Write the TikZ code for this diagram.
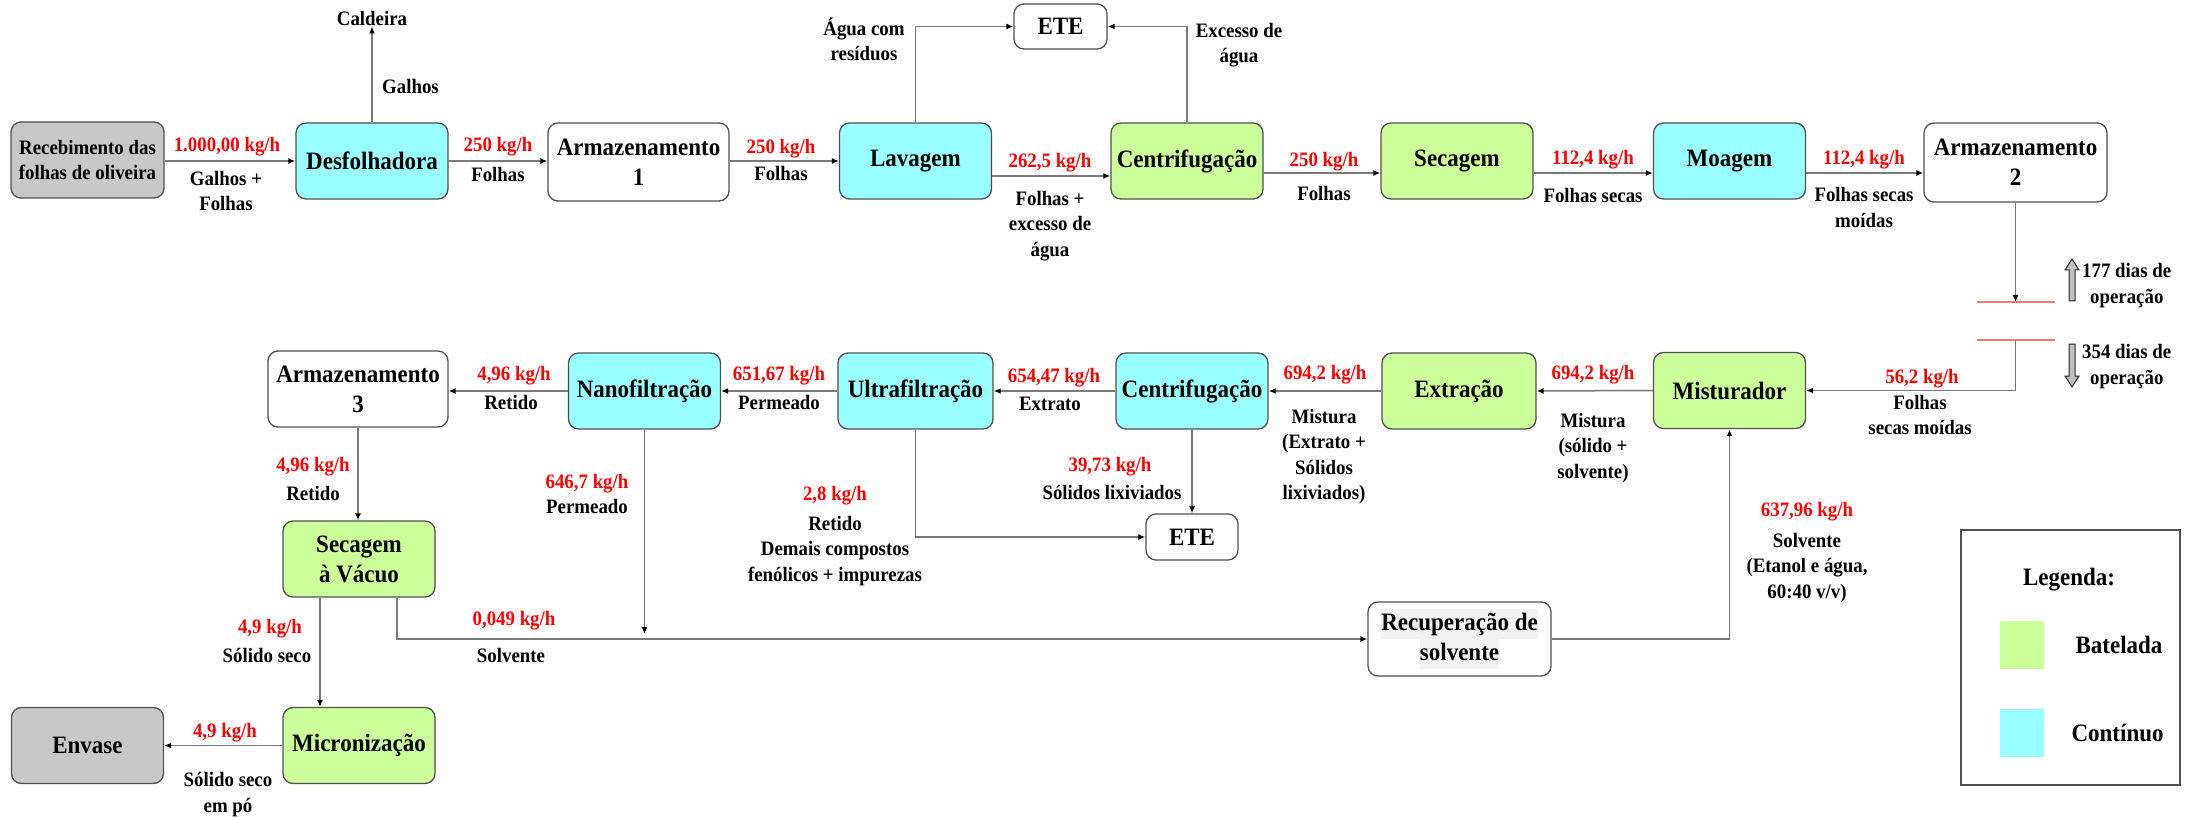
\documentclass[tikz,border=0pt]{standalone}
\usepackage{fontspec}
\setmainfont{Liberation Serif}[FakeStretch=0.92]
\usetikzlibrary{arrows.meta,calc}
\definecolor{contcol}{HTML}{99FFFF}
\definecolor{batcol}{HTML}{CCFF99}
\definecolor{endcol}{HTML}{C8C8C8}
\definecolor{edgecol}{HTML}{505050}
\definecolor{linecol}{HTML}{7A7A7A}
\definecolor{ratecol}{HTML}{FF0000}
\definecolor{cutcol}{HTML}{F07878}
\definecolor{hilite}{HTML}{F2F2F2}
\newcommand\boxfont{\bfseries\fontsize{25}{30}\selectfont}
\newcommand\lblfont{\bfseries\fontsize{20.5}{25.5}\selectfont}
\newcommand\hl[1]{{\setlength\fboxsep{0pt}\colorbox{hilite}{\strut #1}}}
\begin{document}
\begin{tikzpicture}[x=1pt,y=-1pt,
  proc/.style={draw=edgecol, line width=1.3pt, rounded corners=10pt, font=\boxfont,
    align=center, inner sep=0pt, minimum width=152pt, minimum height=76pt},
  cont/.style={proc, fill=contcol},
  bat/.style={proc, fill=batcol},
  store/.style={proc, fill=white},
  ends/.style={proc, fill=endcol},
  lbl/.style={font=\lblfont, align=center, inner sep=1pt},
  rate/.style={lbl, text=ratecol},
  flow/.style={draw=linecol, line width=1.5pt, -{Latex[length=7pt,width=6pt,color=black]}},
  cut/.style={draw=cutcol, line width=2pt},
  bigarrow/.style={fill=gray!50, draw=gray!30!black, line width=1pt},
  key/.style={minimum width=44pt, minimum height=48pt, inner sep=0pt}]
\useasboundingbox (0,0) rectangle (2190,818);

% ---------- upper line: reception to storage ----------
\node[ends, font=\lblfont, minimum width=153pt] (rec) at (87.5,160) {Recebimento das\\folhas de oliveira};
\node[cont] (desf) at (372,161) {Desfolhadora};
\node[store, minimum width=181pt, minimum height=78pt] (arm1) at (638.5,162) {Armazenamento\\1};
\node[store, minimum width=93pt, minimum height=45pt] (ete1) at (1060.5,26.5) {ETE};
\node[cont] (lav) at (915.5,161) {Lavagem};
\node[bat] (cen1) at (1187,161) {Centrifugação};
\node[bat] (sec) at (1457,161) {Secagem};
\node[cont] (moag) at (1729.5,161) {Moagem};
\node[store, minimum width=183pt, minimum height=79pt] (arm2) at (2015.5,162.5) {Armazenamento\\2};
\node[lbl] (cald) at (372,18) {Caldeira};

% ---------- lower lines: extraction and purification ----------
\node[bat] (mist) at (1729.5,390.5) {Misturador};
\node[bat, minimum width=154pt] (extr) at (1459,391) {Extração};
\node[cont] (cen2) at (1192,391) {Centrifugação};
\node[cont, minimum width=155pt] (ultra) at (915.5,391) {Ultrafiltração};
\node[cont] (nano) at (644.5,391) {Nanofiltração};
\node[store, minimum width=180pt] (arm3) at (358,389) {Armazenamento\\3};
\node[bat] (secv) at (359,559) {Secagem\\à Vácuo};
\node[bat] (micro) at (359,745.5) {Micronização};
\node[ends] (env) at (87.5,745.5) {Envase};
\node[store, minimum width=92pt, minimum height=46pt] (ete2) at (1192,537) {ETE};
\node[store, minimum width=183pt, minimum height=74pt] (recup) at (1459.5,639) {\hl{Recuperação de}\\\hl{solvente}};

% ---------- connectors, upper line ----------
\draw[flow] (desf.west -| rec.east) -- (desf.west);
\draw[flow] (desf.north) -- (cald.south);
\draw[flow] (desf.east) -- (desf.east -| arm1.west);
\draw[flow] (lav.west -| arm1.east) -- (lav.west);
\draw[flow] (lav.north) |- (ete1.west);
\draw[flow] (cen1.north) |- (ete1.east);
\draw[flow] ([yshift=-15pt]lav.east) -- ([yshift=-15pt]cen1.west);
\draw[flow] ([yshift=-12pt]cen1.east) -- ([yshift=-12pt]sec.west);
\draw[flow] ([yshift=-12pt]sec.east) -- ([yshift=-12pt]moag.west);
\draw[flow] ([yshift=-12pt]moag.east) -- ([yshift=-12pt]moag.east -| arm2.west);

% ---------- storage break between campaigns ----------
\coordinate (cutA) at (2015.5,302);
\coordinate (cutB) at (2015.5,340);
\draw[flow] (arm2.south) -- (cutA);
\draw[cut] ([xshift=-39pt]cutA) -- ([xshift=39pt]cutA);
\draw[cut] ([xshift=-39pt]cutB) -- ([xshift=39pt]cutB);
\draw[flow] (cutB) |- (mist.east);
\draw[bigarrow] (2069,301) -- (2069,270) -- (2065,270) -- (2072,259) -- (2079,270) -- (2075,270) -- (2075,301) -- cycle;
\draw[bigarrow] (2069,344) -- (2069,376) -- (2065,376) -- (2072,387) -- (2079,376) -- (2075,376) -- (2075,344) -- cycle;
\node[lbl, anchor=west] at (2081,285.5) {177 dias de\\operação};
\node[lbl, anchor=west] at (2081,366.5) {354 dias de\\operação};

% ---------- connectors, lower lines ----------
\draw[flow] (mist.west) -- (extr.east);
\draw[flow] (extr.west) -- (cen2.east);
\draw[flow] (cen2.west) -- (ultra.east);
\draw[flow] (ultra.west) -- (nano.east);
\draw[flow] (nano.west) -- (nano.west -| arm3.east);
\draw[flow] (cen2.south) -- (ete2.north);
\draw[flow] (ultra.south) |- (ete2.west);
\draw[flow] (arm3.south) -- (arm3.south |- secv.north);
\coordinate (permend) at (644.5,634);
\draw[flow] (nano.south) -- (permend);
\draw[flow] ([xshift=38pt]secv.south) |- (recup.west);
\draw[flow] ([xshift=-39pt]secv.south) -- ([xshift=-39pt]secv.south |- micro.north);
\draw[flow] (micro.west) -- (env.east);
\draw[flow] (recup.east) -| (mist.south);

% ---------- stream labels ----------
\node[rate] at (227,147) {1.000,00 kg/h};
\node[lbl] at (226,191) {Galhos +\\Folhas};
\node[lbl, anchor=west] at (381,86) {Galhos};
\node[rate] at (498,147) {250 kg/h};
\node[lbl] at (498,174) {Folhas};
\node[rate] at (781,149) {250 kg/h};
\node[lbl] at (781,173) {Folhas};
\node[lbl] at (864,39.5) {Água com\\resíduos};
\node[lbl] at (1239,45) {Excesso de\\água};
\node[rate] at (1050,163) {262,5 kg/h};
\node[lbl] at (1050,226) {Folhas +\\excesso de\\água};
\node[rate] at (1324,162) {250 kg/h};
\node[lbl] at (1324,193) {Folhas};
\node[rate] at (1593,160) {112,4 kg/h};
\node[lbl] at (1593,195) {Folhas secas};
\node[rate] at (1864,160) {112,4 kg/h};
\node[lbl] at (1864,207.5) {Folhas secas\\moídas};
\node[rate] at (1922,379) {56,2 kg/h};
\node[lbl] at (1920,415) {Folhas\\secas moídas};
\node[rate] at (1593,375) {694,2 kg/h};
\node[lbl] at (1593,448) {Mistura\\(sólido +\\solvente)};
\node[rate] at (1325,375) {694,2 kg/h};
\node[lbl] at (1324,456.5) {Mistura\\(Extrato +\\Sólidos\\lixiviados)};
\node[rate] at (1054,378) {654,47 kg/h};
\node[lbl] at (1050,404) {Extrato};
\node[rate] at (1110,467) {39,73 kg/h};
\node[lbl] at (1112,492) {Sólidos lixiviados};
\node[rate] at (835,496) {2,8 kg/h};
\node[lbl] at (835,551) {Retido\\Demais compostos\\fenólicos + impurezas};
\node[rate] at (779,376) {651,67 kg/h};
\node[lbl] at (779,402) {Permeado};
\node[rate] at (514,376) {4,96 kg/h};
\node[lbl] at (511,402) {Retido};
\node[rate] at (587,484) {646,7 kg/h};
\node[lbl] at (587,506) {Permeado};
\node[rate] at (313,467) {4,96 kg/h};
\node[lbl] at (313,493) {Retido};
\node[rate] at (514,621) {0,049 kg/h};
\node[lbl] at (511,655) {Solvente};
\node[rate] at (270,629) {4,9 kg/h};
\node[lbl] at (267,655) {Sólido seco};
\node[rate] at (225,733) {4,9 kg/h};
\node[lbl] at (228,794.5) {Sólido seco\\em pó};
\node[rate] at (1807,512) {637,96 kg/h};
\node[lbl] at (1807,568) {Solvente\\(Etanol e água,\\60:40 v/v)};

% ---------- legend ----------
\node[draw=edgecol, line width=1.3pt, minimum width=219pt, minimum height=255pt, inner sep=0pt] (legbox) at (2070.5,657.5) {};
\node[font=\boxfont] (legt) at (2069,580) {Legenda:};
\node[key, fill=batcol] (kbat) at (2022,644.5) {};
\node[font=\boxfont, anchor=west] at (2072,645) {Batelada};
\node[key, fill=contcol] (kcont) at (2022,733) {};
\node[font=\boxfont, anchor=west] at (2068,733) {Contínuo};
\end{tikzpicture}
\end{document}
